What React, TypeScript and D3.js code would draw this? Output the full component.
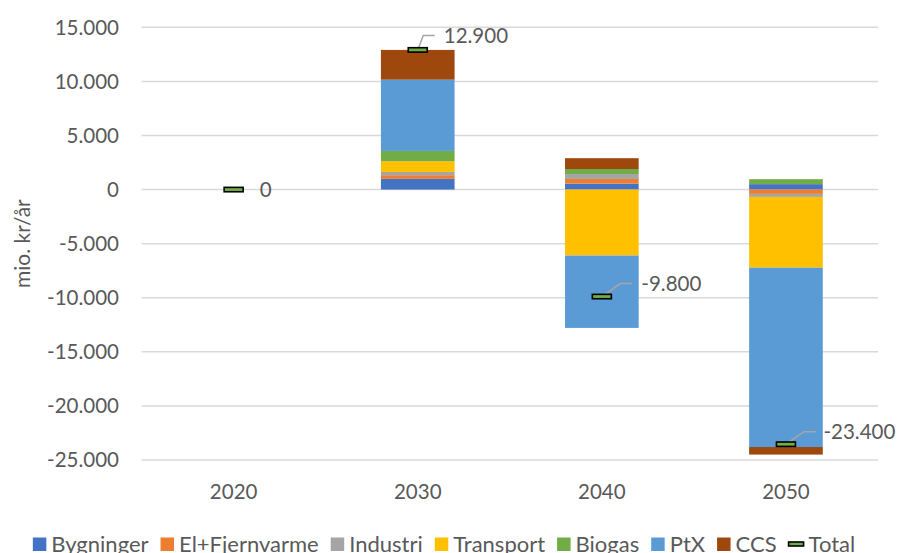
import React from 'react';
import * as d3 from 'd3';

const years = ['2020', '2030', '2040', '2050'];
const seriesNames = ['Bygninger', 'El+Fjernvarme', 'Industri', 'Transport', 'Biogas', 'PtX', 'CCS'];
const bygninger = [0, 990, 550, 500];
const elFjernvarme = [0, 340, 430, -400];
const industri = [0, 300, 460, -280];
const transport = [0, 990, -6100, -6540];
const biogas = [0, 950, 460, 460];
const ptx = [0, 6590, -6690, -16580];
const ccs = [0, 2750, 1000, -700];
const total = [0, 12910, -9890, -23540];
const totalLabels = ['0', '12.900', '-9.800', '-23.400'];
const yTicks = [15000, 10000, 5000, 0, -5000, -10000, -15000, -20000, -25000];
const yTitle = 'mio. kr/år';
const totalName = 'Total';

const seriesValues = [bygninger, elFjernvarme, industri, transport, biogas, ptx, ccs];
const colors = ['#4472C4', '#ED7D31', '#A5A5A5', '#FFC000', '#70AD47', '#5B9BD5', '#9E480E'];

// layout
const W = 901, H = 553;
const plotLeft = 141.6, plotRight = 878, plotTop = 27.3, plotBottom = 460;
const FONT = 'Lato, "Open Sans", sans-serif';
const FS = 20.5;
const LFS = 22;
const TXT = '#595959';
// label leader offsets per category: [elbowDx, elbowDy, endDx, textDx]
const labelLayout = [
  null,
  [5.5, -14.5, 17, 26],
  [18.5, -13, 30, 39.5],
  [18, -12.5, 30, 37.5],
];

function fmt(v: number) {
  if (v === 0) return '0';
  const s = Math.abs(v).toString().replace(/\B(?=(\d{3})+(?!\d))/g, '.');
  return (v < 0 ? '-' : '') + s;
}

function measure(text: string, size: number) {
  if (typeof document === 'undefined') return text.length * size * 0.5;
  const c = document.createElement('canvas').getContext('2d');
  if (!c) return text.length * size * 0.5;
  c.font = `${size}px Lato, "Open Sans", sans-serif`;
  return c.measureText(text).width;
}

export default function App() {
  const x = d3.scaleBand<string>().domain(years).range([plotLeft, plotRight]).paddingInner(0.6).paddingOuter(0.3);
  const y = d3.scaleLinear().domain([-25000, 15000]).range([plotBottom, plotTop]);

  const table = years.map((yr, i) => {
    const row: any = { year: yr };
    seriesNames.forEach((n, j) => (row[n] = seriesValues[j][i]));
    return row;
  });
  const stack = d3.stack<any>().keys(seriesNames).order(d3.stackOrderNone).offset(d3.stackOffsetDiverging);
  const layers = stack(table);

  const bw = x.bandwidth();

  // legend layout
  const names = [...seriesNames, totalName];
  const symW = [...seriesNames.map(() => 13.5), 15];
  const symGap = 5;
  const itemGap = 12;
  const widths = names.map((n, k) => symW[k] + symGap + measure(n, LFS));
  const totalW = d3.sum(widths) + itemGap * (names.length - 1);
  let cursor = 444 - totalW / 2;
  const legendPos = widths.map((w) => {
    const p = cursor;
    cursor += w + itemGap;
    return p;
  });

  return (
    <svg width={W} height={H} style={{ position: 'absolute', left: 0, top: 0, background: '#fff' }} fontFamily={FONT}>
      <rect x={0} y={0} width={W} height={H} fill="#fff" />
      {yTicks.map((t) => (
        <g key={t}>
          <line x1={plotLeft} x2={plotRight} y1={y(t)} y2={y(t)} stroke="#D9D9D9" strokeWidth={1.5} />
          <text x={119} y={y(t)} dy="0.36em" textAnchor="end" fontSize={FS} fill={TXT}>{fmt(t)}</text>
        </g>
      ))}
      <text transform={`translate(30,${(plotTop + plotBottom) / 2}) rotate(-90)`} textAnchor="middle" fontSize={21} fill={TXT}>{yTitle}</text>
      {layers.map((layer, j) => (
        <g key={seriesNames[j]} fill={colors[j]}>
          {layer.map((d, i) => {
            const y0 = y(d[0]), y1 = y(d[1]);
            const h = Math.abs(y0 - y1);
            if (h < 0.01) return null;
            return <rect key={i} x={x(years[i])} y={Math.min(y0, y1)} width={bw} height={h} />;
          })}
        </g>
      ))}
      {years.map((yr) => (
        <text key={yr} x={(x(yr) as number) + bw / 2} y={492} dy="0.36em" textAnchor="middle" fontSize={FS} fill={TXT}>{yr}</text>
      ))}
      {total.map((v, i) => {
        const cx = (x(years[i]) as number) + bw / 2;
        const cy = y(v);
        const L = labelLayout[i];
        return (
          <g key={i}>
            {L && (
              <polyline points={`${cx},${cy} ${cx + L[0]},${cy + L[1]} ${cx + L[2]},${cy + L[1]}`} fill="none" stroke="#A6A6A6" strokeWidth={1.5} />
            )}
            <rect x={cx - 9.5} y={cy - 2.2} width={19} height={4.4} fill="#70AD47" stroke="#000" strokeWidth={1.6} />
            <text x={cx + (L ? L[3] : 26)} y={cy + (L ? L[1] : 0)} dy="0.36em" fontSize={FS} fill={TXT}>{totalLabels[i]}</text>
          </g>
        );
      })}
      {seriesNames.map((n, j) => (
        <g key={n}>
          <rect x={legendPos[j]} y={537.5} width={13.5} height={13.5} fill={colors[j]} />
          <text x={legendPos[j] + 13.5 + symGap} y={551.5} fontSize={LFS} fill={TXT}>{n}</text>
        </g>
      ))}
      <g>
        <rect x={legendPos[7]} y={542} width={15} height={4} fill="#70AD47" stroke="#000" strokeWidth={1.6} />
        <text x={legendPos[7] + 15 + symGap} y={551.5} fontSize={LFS} fill={TXT}>{totalName}</text>
      </g>
    </svg>
  );
}
